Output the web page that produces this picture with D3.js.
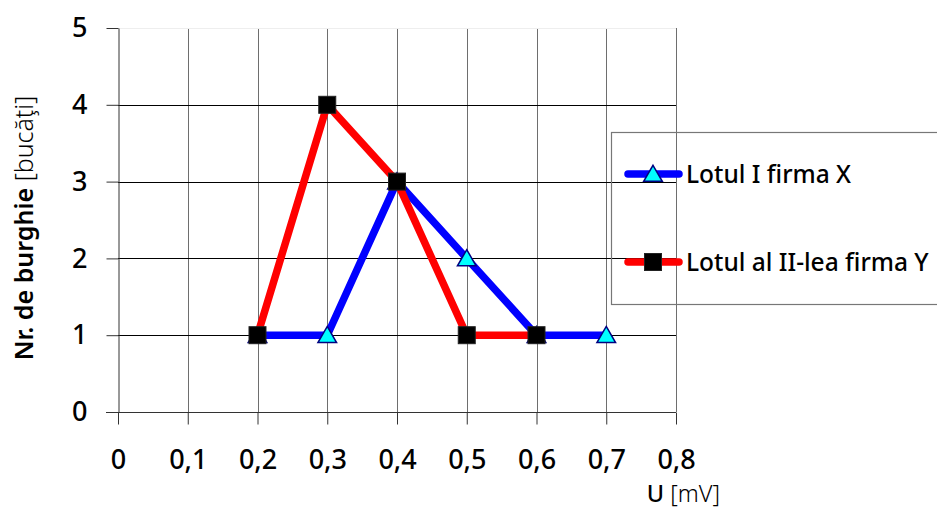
<!DOCTYPE html>
<html>
<head>
<meta charset="utf-8">
<script src="https://cdn.jsdelivr.net/npm/d3@7"></script>
<style>
  html, body { margin: 0; padding: 0; background: #fff; }
  svg { display: block; font-family: "Noto Sans", "Open Sans", sans-serif; }
</style>
</head>
<body>
<svg id="chart" width="937" height="509"></svg>
<script>
// Voltage values (mV) and counts of drill bits for the two lots
const seriesNames = ["Lotul I firma X", "Lotul al II-lea firma Y"];
const xLotX = [0.2, 0.3, 0.4, 0.5, 0.6, 0.7];
const yLotX = [1, 1, 3, 2, 1, 1];
const xLotY = [0.2, 0.3, 0.4, 0.5, 0.6];
const yLotY = [1, 4, 3, 1, 1];
const xTicks = [0, 0.1, 0.2, 0.3, 0.4, 0.5, 0.6, 0.7, 0.8];
const yTicks = [0, 1, 2, 3, 4, 5];

const svg = d3.select("#chart");
const margin = { left: 118, top: 28, right: 676, bottom: 412 };

const x = d3.scaleLinear().domain([0, 0.8]).range([margin.left, margin.right]);
const y = d3.scaleLinear().domain([0, 5]).range([margin.bottom, margin.top]);
const fmt = d => d3.format(".1~f")(d).replace(".", ",");

// Vertical grid lines
svg.append("g").selectAll("line").data(xTicks.slice(1)).join("line")
  .attr("x1", d => Math.round(x(d)) + 0.5).attr("x2", d => Math.round(x(d)) + 0.5)
  .attr("y1", y(5)).attr("y2", y(0))
  .attr("stroke", "#6e6e6e").attr("stroke-width", 1);

// Horizontal grid lines
svg.append("g").selectAll("line").data(yTicks.slice(1, -1)).join("line")
  .attr("x1", x(0)).attr("x2", x(0.8))
  .attr("y1", d => Math.round(y(d)) + 0.5).attr("y2", d => Math.round(y(d)) + 0.5)
  .attr("stroke", "#000").attr("stroke-width", 1);

// Faint top border of the plot area
svg.append("line")
  .attr("x1", x(0)).attr("x2", x(0.8))
  .attr("y1", y(5) + 0.5).attr("y2", y(5) + 0.5)
  .attr("stroke", "#eee");

// Axes
const xAxis = svg.append("g")
  .attr("transform", `translate(0,${Math.round(y(0)) + 0.5})`)
  .call(d3.axisBottom(x).tickValues(xTicks).tickFormat(fmt).tickSize(12).tickPadding(25).tickSizeOuter(0));
const yAxis = svg.append("g")
  .attr("transform", `translate(${Math.round(x(0)) + 0.5},0)`)
  .call(d3.axisLeft(y).tickValues(yTicks).tickFormat(d3.format("d")).tickSize(12).tickPadding(19).tickSizeOuter(0));

[xAxis, yAxis].forEach(g => {
  g.select(".domain").attr("stroke", "#333");
  g.selectAll(".tick line").attr("stroke", "#333");
  g.selectAll(".tick text").attr("fill", "#000").attr("font-size", 27).attr("font-weight", 500)
    .attr("font-family", "'Noto Sans', sans-serif");
});
// Extend the x axis line to meet the y tick marks
xAxis.select(".domain").attr("d", `M${x(0) - 12},0H${x(0.8)}`);

// Axis titles
const xTitle = svg.append("text")
  .attr("x", 720).attr("y", 502).attr("text-anchor", "end").attr("font-size", 23.5);
xTitle.append("tspan").attr("font-weight", 500).text("U ");
xTitle.append("tspan").attr("font-weight", 300).text("[mV]");

const yTitle = svg.append("text")
  .attr("transform", `translate(33,228) rotate(-90)`)
  .attr("text-anchor", "middle").attr("font-size", 25);
yTitle.append("tspan").attr("font-weight", 600).text("Nr. de burghie ");
yTitle.append("tspan").attr("font-weight", 300).text("[bucăţi]");

// Series lines and markers
const line = d3.line().x(d => x(d[0])).y(d => y(d[1]));
const dataX = xLotX.map((v, i) => [v, yLotX[i]]);
const dataY = xLotY.map((v, i) => [v, yLotY[i]]);

const triangle = d3.symbol().type(d3.symbolTriangle).size(150);

function drawTriangle(g, cx, cy) {
  g.append("path").attr("d", triangle())
    .attr("transform", `translate(${cx},${cy + 2})`)
    .attr("fill", "#00ffff").attr("stroke", "#000080").attr("stroke-width", 1.5);
}
function drawSquare(g, cx, cy) {
  g.append("rect").attr("x", cx - 8.5).attr("y", cy - 8.5).attr("width", 17).attr("height", 17)
    .attr("fill", "#000").attr("stroke", "#222").attr("stroke-width", 1);
}

svg.append("path").datum(dataX).attr("d", line)
  .attr("fill", "none").attr("stroke", "#0000ff").attr("stroke-width", 7.5).attr("stroke-linejoin", "round");
const mX = svg.append("g");
dataX.forEach(d => drawTriangle(mX, x(d[0]), y(d[1])));

svg.append("path").datum(dataY).attr("d", line)
  .attr("fill", "none").attr("stroke", "#ff0000").attr("stroke-width", 7.5).attr("stroke-linejoin", "round");
const mY = svg.append("g");
dataY.forEach(d => drawSquare(mY, x(d[0]), y(d[1])));

// Legend
const legend = svg.append("g");
legend.append("rect").attr("x", 611.5).attr("y", 132.5).attr("width", 340).attr("height", 172)
  .attr("fill", "none").attr("stroke", "#777").attr("stroke-width", 1.2);
const legendRows = [
  { name: seriesNames[0], color: "#0000ff", y: 174, marker: drawTriangle },
  { name: seriesNames[1], color: "#ff0000", y: 262, marker: drawSquare }
];
legendRows.forEach(r => {
  legend.append("line").attr("x1", 628).attr("x2", 679).attr("y1", r.y).attr("y2", r.y)
    .attr("stroke", r.color).attr("stroke-width", 7.5).attr("stroke-linecap", "round");
  r.marker(legend, 653, r.y);
  legend.append("text").attr("x", 686).attr("y", r.y + 9).attr("font-size", 24.5).attr("font-weight", 500)
    .attr("fill", "#000").text(r.name);
});
</script>
</body>
</html>
